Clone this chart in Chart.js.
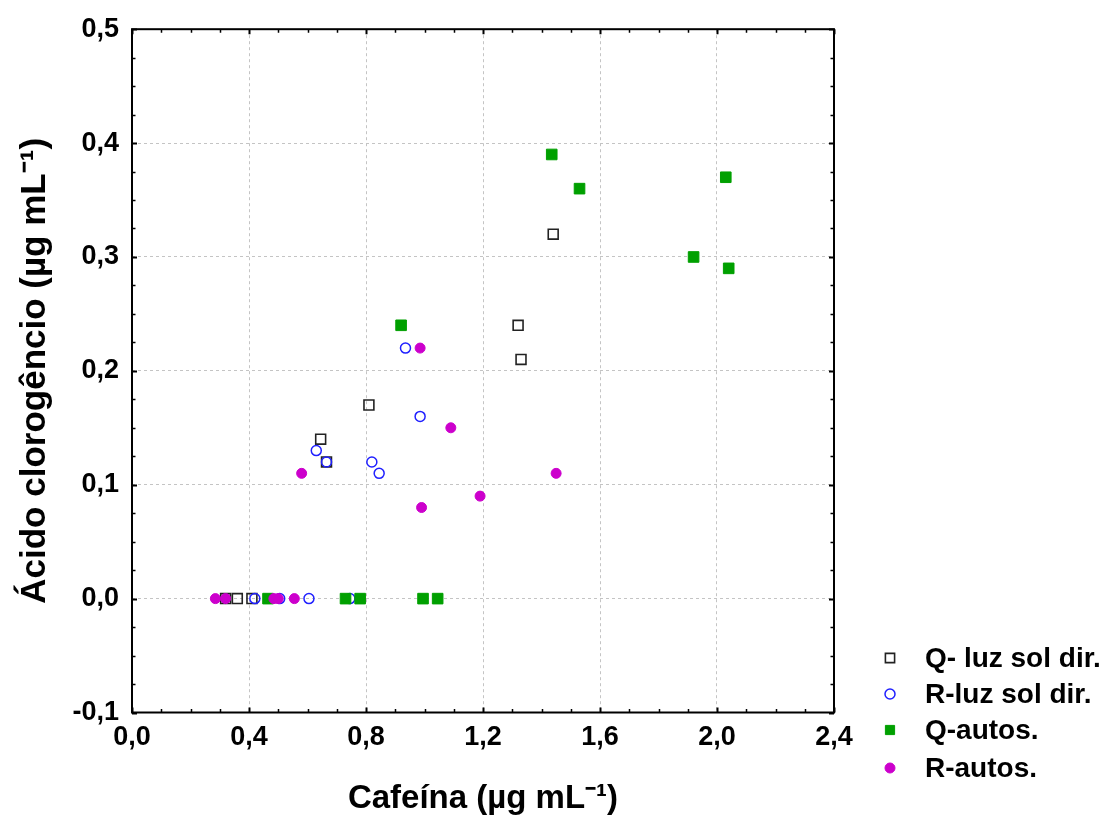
<!DOCTYPE html>
<html>
<head>
<meta charset="utf-8">
<script src="https://cdn.jsdelivr.net/npm/chart.js@4.4.0/dist/chart.umd.min.js"></script>
<style>
html, body { margin: 0; padding: 0; background: #fff; }
#wrap { width: 1105px; height: 821px; }
</style>
</head>
<body>
<div id="wrap"><canvas id="grafico" width="1105" height="821"></canvas></div>
<script>
// Datos (cafeína en x, ácido clorogénico en y)
const qLuzX = [0.32, 0.36, 0.41, 0.645, 0.665, 0.81, 1.32, 1.33, 1.44];
const qLuzY = [0, 0, 0, 0.14, 0.12, 0.17, 0.24, 0.21, 0.32];

const rLuzX = [0.42, 0.505, 0.605, 0.745, 0.63, 0.665, 0.82, 0.845, 0.935, 0.985];
const rLuzY = [0, 0, 0, 0, 0.13, 0.12, 0.12, 0.11, 0.22, 0.16];

const qAutosX = [0.465, 0.73, 0.78, 0.995, 1.045, 0.92, 1.435, 1.53, 1.92, 2.03, 2.04];
const qAutosY = [0, 0, 0, 0, 0, 0.24, 0.39, 0.36, 0.30, 0.37, 0.29];

const rAutosX = [0.285, 0.32, 0.485, 0.50, 0.555, 0.58, 0.985, 0.99, 1.09, 1.19, 1.45];
const rAutosY = [0, 0, 0, 0, 0, 0.11, 0.22, 0.08, 0.15, 0.09, 0.11];

const etiquetas = ['Q- luz sol dir.', 'R-luz sol dir.', 'Q-autos.', 'R-autos.'];

const xMin = 0, xMax = 2.4, xPaso = 0.4, xMenor = 0.1;
const yMin = -0.1, yMax = 0.5, yPaso = 0.1, yMenor = 0.025;

const fuente = "'Liberation Sans', Arial, sans-serif";

function puntos(xs, ys) {
    return xs.map((x, i) => ({ x: x, y: ys[i] }));
}

function formatoComa(v) {
    return (Math.round(v * 10) / 10).toFixed(1).replace('.', ',');
}

// Marco, marcas de los ejes y leyenda
const marcoPlugin = {
    id: 'marco',
    afterDraw(chart) {
        const ctx = chart.ctx;
        const a = chart.chartArea;
        const sx = chart.scales.x, sy = chart.scales.y;
        ctx.save();
        ctx.strokeStyle = '#000';

        // marcas hacia dentro en los cuatro lados
        for (let i = 0; i <= Math.round((yMax - yMin) / yMenor); i++) {
            const py = Math.round(sy.getPixelForValue(yMin + i * yMenor)) + 0.5;
            const mayor = i % 4 === 0;
            ctx.lineWidth = mayor ? 2 : 1.5;
            ctx.beginPath();
            ctx.moveTo(a.left, py);
            ctx.lineTo(a.left + (mayor ? 5 : 3.5), py);
            ctx.moveTo(a.right, py);
            ctx.lineTo(a.right - (mayor ? 5 : 3.5), py);
            ctx.stroke();
        }
        for (let i = 0; i <= Math.round((xMax - xMin) / xMenor); i++) {
            const px = Math.round(sx.getPixelForValue(xMin + i * xMenor)) + 0.5;
            const mayor = i % 4 === 0;
            ctx.lineWidth = mayor ? 2 : 1.5;
            ctx.beginPath();
            ctx.moveTo(px, a.bottom);
            ctx.lineTo(px, a.bottom - (mayor ? 5 : 3.5));
            ctx.moveTo(px, a.top);
            ctx.lineTo(px, a.top + (mayor ? 5 : 3.5));
            ctx.stroke();
        }

        // marco
        ctx.lineWidth = 2;
        ctx.strokeRect(a.left, a.top, a.right - a.left, a.bottom - a.top);

        // leyenda
        const ly = [658, 694, 730, 768];
        chart.data.datasets.forEach((ds, i) => {
            ctx.fillStyle = ds.backgroundColor;
            ctx.strokeStyle = ds.borderColor;
            ctx.lineWidth = ds.borderWidth;
            Chart.helpers.drawPoint(ctx, {
                pointStyle: ds.pointStyle,
                radius: ds.pointStyle === 'rect' ? 6.5 : 5,
                rotation: 0,
                borderWidth: ds.borderWidth
            }, 890, ly[i]);
            ctx.fillStyle = '#000';
            ctx.font = 'bold 28px ' + fuente;
            ctx.textAlign = 'left';
            ctx.textBaseline = 'middle';
            ctx.fillText(ds.label, 925, ly[i] + 1);
        });
        ctx.restore();
    }
};

new Chart(document.getElementById('grafico'), {
    type: 'scatter',
    data: {
        datasets: [
            {
                label: etiquetas[0],
                data: puntos(qLuzX, qLuzY),
                order: 3,
                pointStyle: 'rect',
                pointRadius: 7,
                backgroundColor: 'rgba(0,0,0,0)',
                borderColor: '#222',
                borderWidth: 1.6
            },
            {
                label: etiquetas[1],
                data: puntos(rLuzX, rLuzY),
                order: 2,
                pointStyle: 'circle',
                pointRadius: 5,
                backgroundColor: 'rgba(0,0,0,0)',
                borderColor: '#2020ff',
                borderWidth: 1.5
            },
            {
                label: etiquetas[2],
                data: puntos(qAutosX, qAutosY),
                order: 1,
                pointStyle: 'rect',
                pointRadius: 7.5,
                backgroundColor: '#00a000',
                borderColor: '#00a000',
                borderWidth: 1
            },
            {
                label: etiquetas[3],
                data: puntos(rAutosX, rAutosY),
                order: 0,
                pointStyle: 'circle',
                pointRadius: 5,
                backgroundColor: '#cc00cc',
                borderColor: '#cc00cc',
                borderWidth: 1
            }
        ]
    },
    options: {
        responsive: false,
        animation: false,
        devicePixelRatio: 1,
        layout: { padding: { top: 27, right: 271, left: 0, bottom: 0 } },
        plugins: {
            legend: { display: false },
            tooltip: { enabled: false }
        },
        scales: {
            x: {
                type: 'linear',
                min: xMin,
                max: xMax,
                afterFit(s) { s.height = 108.5; },
                grid: { color: '#c4c4c4', lineWidth: 1, drawTicks: false },
                border: { display: false, dash: [3, 3] },
                ticks: {
                    stepSize: xPaso,
                    padding: 9,
                    color: '#000',
                    font: { family: fuente, size: 27, weight: 'bold' },
                    callback: v => formatoComa(v)
                },
                title: {
                    display: true,
                    text: 'Cafeína (µg mL⁻¹)',
                    color: '#000',
                    font: { family: fuente, size: 33, weight: 'bold' },
                    padding: { top: 0, bottom: 2 }
                }
            },
            y: {
                type: 'linear',
                min: yMin,
                max: yMax,
                afterFit(s) { s.width = 132; },
                grid: { color: '#c4c4c4', lineWidth: 1, drawTicks: false },
                border: { display: false, dash: [3, 3] },
                ticks: {
                    stepSize: yPaso,
                    padding: 13,
                    color: '#000',
                    font: { family: fuente, size: 27, weight: 'bold' },
                    callback: v => formatoComa(v)
                },
                title: {
                    display: true,
                    text: 'Ácido clorogêncio (µg mL⁻¹)',
                    color: '#000',
                    font: { family: fuente, size: 35, weight: 'bold' },
                    padding: { top: 14, bottom: 0 }
                }
            }
        }
    },
    plugins: [marcoPlugin]
});
</script>
</body>
</html>
